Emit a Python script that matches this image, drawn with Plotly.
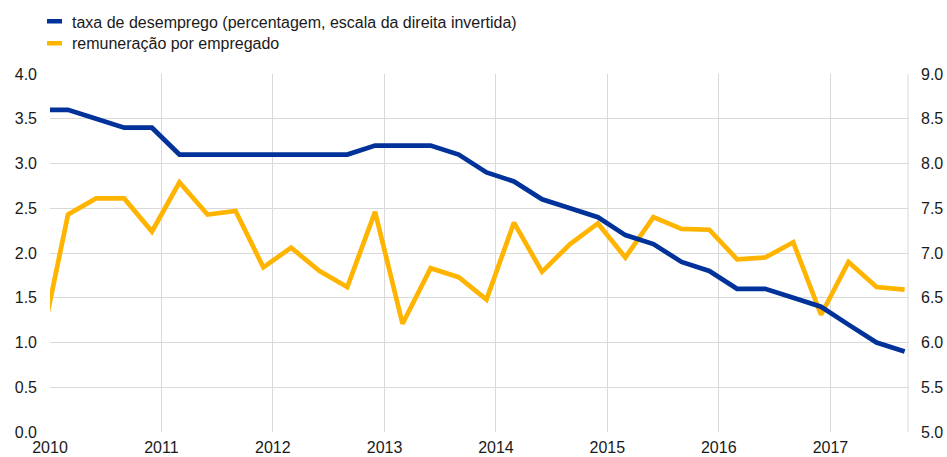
import plotly.graph_objects as go

dates = ["2009-12-01",
         "2010-03-01", "2010-06-01", "2010-09-01", "2010-12-01",
         "2011-03-01", "2011-06-01", "2011-09-01", "2011-12-01",
         "2012-03-01", "2012-06-01", "2012-09-01", "2012-12-01",
         "2013-03-01", "2013-06-01", "2013-09-01", "2013-12-01",
         "2014-03-01", "2014-06-01", "2014-09-01", "2014-12-01",
         "2015-03-01", "2015-06-01", "2015-09-01", "2015-12-01",
         "2016-03-01", "2016-06-01", "2016-09-01", "2016-12-01",
         "2017-03-01", "2017-06-01", "2017-09-01"]

unemployment = [8.6,
                8.6, 8.5, 8.4, 8.4,
                8.1, 8.1, 8.1, 8.1,
                8.1, 8.1, 8.1, 8.2,
                8.2, 8.2, 8.1, 7.9,
                7.8, 7.6, 7.5, 7.4,
                7.2, 7.1, 6.9, 6.8,
                6.6, 6.6, 6.5, 6.4,
                6.2, 6.0, 5.9]

compensation = [0.95,
                2.43, 2.61, 2.61, 2.24,
                2.79, 2.43, 2.47, 1.84,
                2.06, 1.80, 1.62, 2.46,
                1.21, 1.83, 1.73, 1.48,
                2.34, 1.79, 2.10, 2.33,
                1.95, 2.40, 2.27, 2.26,
                1.93, 1.95, 2.12, 1.31,
                1.90, 1.62, 1.59]

series_names = ["taxa de desemprego (percentagem, escala da direita invertida)",
                "remuneração por empregado"]

left_ticks = [0.0, 0.5, 1.0, 1.5, 2.0, 2.5, 3.0, 3.5, 4.0]
right_ticks = [5.0, 5.5, 6.0, 6.5, 7.0, 7.5, 8.0, 8.5, 9.0]
year_ticks = ["2010", "2011", "2012", "2013", "2014", "2015", "2016", "2017"]

BLUE = "#003299"
YELLOW = "#FFB400"
FONT = "Liberation Sans, Arial, sans-serif"
TEXT = "#1a1a1a"
FS = 16

W, H = 947, 457
ML, MR, MT, MB = 50, 39, 74, 25
PW, PH = W - ML - MR, H - MT - MB


def px_x(px):
    return (px - ML) / PW


def px_y(py):
    return (H - MB - py) / PH


fig = go.Figure()
fig.add_trace(go.Scatter(
    x=dates, y=unemployment, mode="lines", yaxis="y2",
    name=series_names[0], showlegend=False,
    line=dict(color=BLUE, width=4.7)))
fig.add_trace(go.Scatter(
    x=dates, y=compensation, mode="lines",
    name=series_names[1], showlegend=False,
    line=dict(color=YELLOW, width=4.7)))

# custom legend: short thick bars + text
legend_rows = [(BLUE, 21, series_names[0]), (YELLOW, 43, series_names[1])]
shapes = [dict(type="line", xref="paper", yref="paper", x0=1, x1=1, y0=0, y1=1,
               line=dict(color="#d9d9d9", width=1), layer="below")]
annotations = []
for color, cy, label in legend_rows:
    shapes.append(dict(type="rect", xref="paper", yref="paper",
                       x0=px_x(47), x1=px_x(62), y0=px_y(cy + 2.5), y1=px_y(cy - 2),
                       fillcolor=color, line=dict(width=0)))
    annotations.append(dict(xref="paper", yref="paper", x=px_x(70), y=px_y(cy + 1),
                            xanchor="left", yanchor="middle", showarrow=False,
                            text=label, font=dict(family=FONT, size=FS, color=TEXT)))

fig.update_layout(
    width=W, height=H,
    margin=dict(l=ML, r=MR, t=MT, b=MB, autoexpand=False),
    paper_bgcolor="white", plot_bgcolor="white",
    font=dict(family=FONT, size=FS, color=TEXT),
    showlegend=False,
    xaxis=dict(type="date", range=["2010-01-01", "2017-09-12"],
               tickvals=[y + "-01-01" for y in year_ticks],
               ticktext=year_ticks,
               showgrid=True, gridcolor="#d9d9d9", gridwidth=1,
               showline=False, zeroline=False, ticks="", ticklabelstandoff=4),
    yaxis=dict(range=[0, 4], tickvals=left_ticks,
               ticktext=[f"{v:.1f}" for v in left_ticks],
               showgrid=True, gridcolor="#d9d9d9", gridwidth=1,
               zeroline=False, showline=False, ticks="", ticklabelstandoff=12),
    yaxis2=dict(range=[5, 9], tickvals=right_ticks,
                ticktext=[f"{v:.1f}" for v in right_ticks],
                overlaying="y", side="right", showgrid=False,
                zeroline=False, showline=False, ticks="", ticklabelstandoff=12),
    shapes=shapes,
    annotations=annotations,
)

fig.write_html("out.html",
               config={"displayModeBar": False},
               post_script="document.body.style.margin='0px';document.body.style.overflow='hidden';")
